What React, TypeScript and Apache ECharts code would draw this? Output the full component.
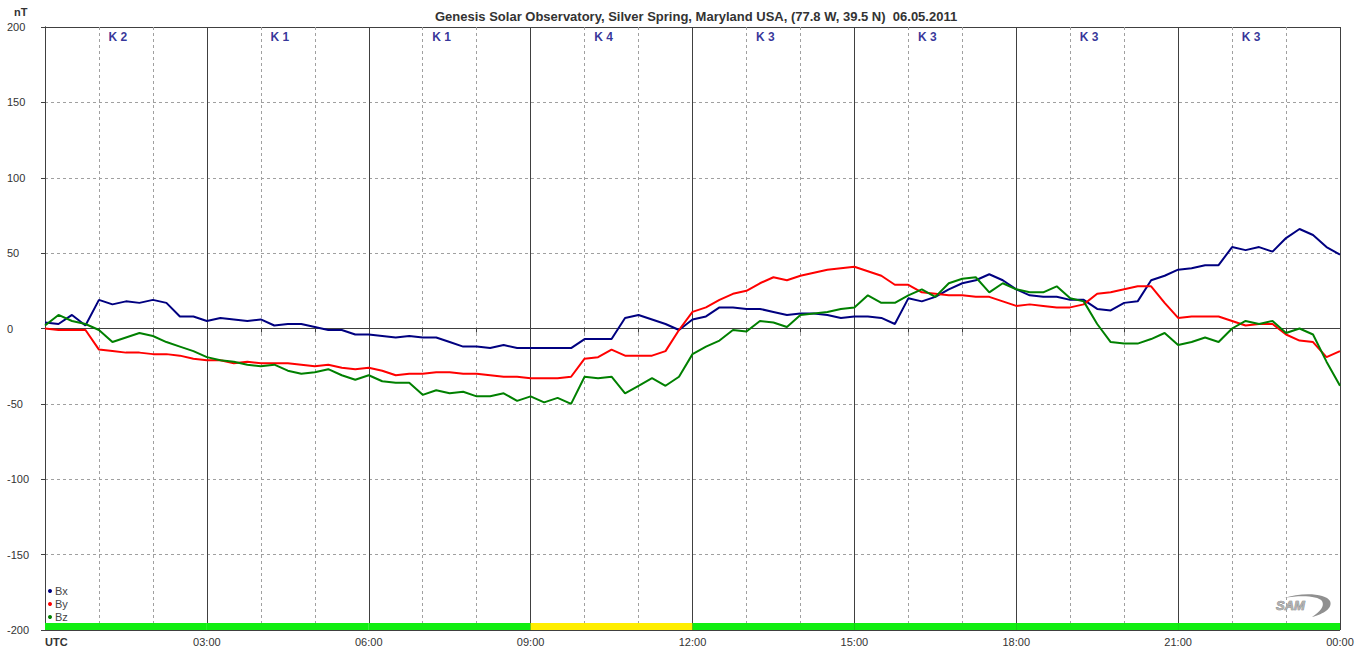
import React, { useEffect, useRef } from "react";
import * as echarts from "echarts";

const STEP_H = 0.25;
const TITLE = "Genesis Solar Observatory, Silver Spring, Maryland USA, (77.8 W, 39.5 N)  06.05.2011";
const kIndex = [2, 1, 1, 4, 3, 3, 3, 3];
const seriesNames = ["Bx", "By", "Bz"];
const yTicks = [-200, -150, -100, -50, 0, 50, 100, 150, 200];

const bx = [
  4, 3, 9, 2, 19, 16, 18, 17, 19, 17, 8, 8,
  5, 7, 6, 5, 6, 2, 3, 3, 1, -1, -1, -4,
  -4, -5, -6, -5, -6, -6, -9, -12, -12, -13, -11, -13,
  -13, -13, -13, -13, -7, -7, -7, 7, 9, 6, 3, -1,
  6, 8, 14, 14, 13, 13, 11, 9, 10, 10, 9, 7,
  8, 8, 7, 3, 20, 18, 21, 26, 30, 32, 36, 32,
  26, 22, 21, 21, 19, 19, 13, 12, 17, 18, 32, 35,
  39, 40, 42, 42, 54, 52, 54, 51, 60, 66, 62, 54,
  49,
];
const by = [
  0, -1, -1, -1, -14, -15, -16, -16, -17, -17, -18, -20,
  -21, -21, -23, -22, -23, -23, -23, -24, -25, -24, -26, -27,
  -26, -28, -31, -30, -30, -29, -29, -30, -30, -31, -32, -32,
  -33, -33, -33, -32, -20, -19, -14, -18, -18, -18, -15, -1,
  11, 14, 19, 23, 25, 30, 34, 32, 35, 37, 39, 40,
  41, 38, 35, 29, 29, 24, 23, 22, 22, 21, 21, 18,
  15, 16, 15, 14, 14, 16, 23, 24, 26, 28, 28, 17,
  7, 8, 8, 8, 5, 2, 3, 3, -4, -8, -9, -19,
  -15,
];
const bz = [
  2, 9, 5, 3, -1, -9, -6, -3, -5, -9, -12, -15,
  -19, -21, -22, -24, -25, -24, -28, -30, -29, -27, -31, -34,
  -31, -35, -36, -36, -44, -41, -43, -42, -45, -45, -43, -48,
  -45, -49, -46, -50, -32, -33, -32, -43, -38, -33, -38, -32,
  -17, -12, -8, -1, -2, 5, 4, 1, 9, 10, 11, 13,
  14, 22, 17, 17, 22, 26, 21, 30, 33, 34, 24, 30,
  26, 24, 24, 28, 20, 18, 3, -9, -10, -10, -7, -3,
  -11, -9, -6, -9, 0, 5, 3, 5, -3, 0, -4, -22,
  -38,
];

const colors = ["#000080", "#ff0000", "#008000"];
const FONT = "'Liberation Sans', Arial, sans-serif";

function pad(n: number) {
  return n < 10 ? "0" + n : "" + n;
}

export default function App() {
  const ref = useRef<HTMLDivElement>(null);
  useEffect(() => {
    document.body.style.margin = "0";
    if (!ref.current) return;
    echarts.graphic.registerShape(
      "samSwoosh",
      echarts.graphic.extendPath(
        "M8 5 C 25 -1, 50 0, 54 8 C 57 15, 48 21, 36 24 C 44 19, 49 13, 46 8 C 42 3, 25 2, 8 5 Z",
        {}
      )
    );
    const chart = echarts.init(ref.current, undefined, { renderer: "svg" });
    const toData = (arr: number[]) => arr.map((v, i) => [i * STEP_H, v]);
    const lineSeries = [bx, by, bz].map((arr, i) => ({
      name: seriesNames[i],
      type: "line",
      data: toData(arr),
      showSymbol: false,
      symbol: "circle",
      itemStyle: { color: colors[i] },
      lineStyle: { color: colors[i], width: 2 },
      xAxisIndex: 0,
      yAxisIndex: 0,
      z: 3,
    }));
    const option: any = {
      animation: false,
      textStyle: { fontFamily: FONT },
      title: {
        text: TITLE,
        left: 430,
        top: 5,
        textStyle: { fontSize: 13, fontWeight: "bold", color: "#333", fontFamily: FONT },
      },
      legend: {
        data: seriesNames,
        orient: "vertical",
        left: 48,
        top: 585,
        icon: "circle",
        itemWidth: 4,
        itemHeight: 4,
        itemGap: 1,
        padding: 0,
        textStyle: { fontSize: 11, color: "#444", lineHeight: 12, padding: [0, 0, 0, -2] },
      },
      grid: { left: 45, right: 20, top: 27, bottom: 27 },
      xAxis: [
        {
          type: "value",
          min: 0,
          max: 24,
          interval: 1,
          axisLine: { show: true, lineStyle: { color: "#404040", width: 1 } },
          axisTick: { show: true, length: 4, lineStyle: { color: "#404040" } },
          axisLabel: {
            fontSize: 11,
            color: "#333",
            margin: 6,
            alignMinLabel: "left",
            formatter: (v: number) => {
              if (v === 0) return "{u|UTC}";
              return v % 3 === 0 ? pad(v % 24) + ":00" : "";
            },
            rich: { u: { fontWeight: "bold", fontSize: 11, color: "#333" } },
          },
          splitLine: { show: true, lineStyle: { color: "#a0a0a0", type: [3, 3], width: 1 } },
        },
        {
          type: "value",
          position: "top",
          min: 0,
          max: 24,
          interval: 3,
          axisLine: { show: true, lineStyle: { color: "#404040", width: 1 } },
          axisTick: { show: false },
          axisLabel: { show: false },
          splitLine: { show: true, lineStyle: { color: "#404040", width: 1 } },
        },
      ],
      yAxis: [
        {
          type: "value",
          min: -200,
          max: 200,
          interval: 50,
          axisLine: { show: true, lineStyle: { color: "#404040", width: 1 } },
          axisTick: { show: true, length: 4, lineStyle: { color: "#404040" } },
          axisLabel: {
            fontSize: 11,
            color: "#333",
            align: "left",
            margin: 38,
            customValues: yTicks,
          },
          splitLine: { show: true, lineStyle: { color: "#a0a0a0", type: [3, 3], width: 1 } },
        },
        {
          type: "value",
          position: "right",
          min: -200,
          max: 200,
          interval: 200,
          axisLine: { show: true, lineStyle: { color: "#404040", width: 1 } },
          axisTick: { show: false },
          axisLabel: { show: false },
          splitLine: { show: true, lineStyle: { color: "#404040", width: 1 } },
        },
      ],
      graphic: [
        {
          type: "text",
          left: 14,
          top: 6,
          style: { text: "nT", font: "bold 11px " + FONT, fill: "#333" },
        },
        {
          type: "samSwoosh",
          x: 1276,
          y: 593,
          scaleX: 1,
          scaleY: 1,
          style: { fill: "#909090" },
          silent: true,
        },
        {
          type: "text",
          x: 1276,
          y: 599,
          style: {
            text: "SAM",
            font: "italic bold 13px " + FONT,
            fill: "#b0b0b0",
            stroke: "#707070",
            lineWidth: 0.6,
          },
          silent: true,
        },
      ],
      series: [
        ...lineSeries,
        {
          name: "K",
          type: "scatter",
          xAxisIndex: 0,
          yAxisIndex: 0,
          symbolSize: 0,
          silent: true,
          data: kIndex.map((k, i) => [i * 3 + 1.35, 193.4, k]),
          label: {
            show: true,
            position: "inside",
            formatter: (p: any) => "K " + p.value[2],
            fontSize: 12,
            fontWeight: "bold",
            color: "#000080",
          },
          markArea: {
            silent: true,
            data: kIndex.map((k, i) => [
              { xAxis: i * 3, yAxis: -200, itemStyle: { color: k >= 4 ? "#ffee00" : "#11ee11" } },
              { xAxis: i * 3 + 3, yAxis: -195.4 },
            ]),
          },
          z: 2,
        },
      ],
    };
    chart.setOption(option);
    return () => chart.dispose();
  }, []);
  return <div ref={ref} style={{ width: 1360, height: 657 }} />;
}
